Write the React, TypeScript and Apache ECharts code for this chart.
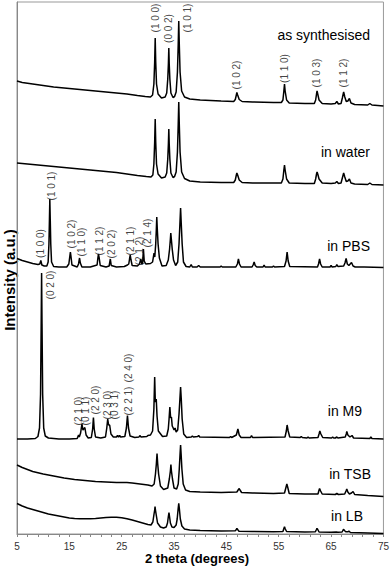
import React, { useEffect, useRef } from "react";
import * as echarts from "echarts";

// Intensity values are in arbitrary units (offset-stacked patterns)
const asSynthesised: [number, number][] = [
  [5, 453], [6, 451.5], [8, 450], [10, 448.5], [12, 447], [14, 446], [16, 445], [18, 444], [20, 443], [22, 442], [24, 441], [26, 440], [28, 438.5], [29.5, 437.5], [30.5, 437],
  [30.9, 439], [31.15, 450], [31.3, 472], [31.4, 496], [31.5, 472], [31.65, 450], [31.95, 440], [32.6, 436],
  [33.3, 437], [33.6, 441], [33.8, 455], [33.92, 470], [34.0, 486], [34.08, 470], [34.2, 455], [34.4, 441], [34.8, 436.5], [35.1, 437.5],
  [35.4, 442], [35.65, 462], [35.8, 490], [35.9, 513], [36.0, 490], [36.15, 462], [36.45, 443], [37, 437], [38, 435], [40, 434], [44, 433], [46.4, 432.5],
  [46.7, 434.5], [46.9, 439], [47.0, 441.5], [47.15, 439], [47.45, 434.5], [48, 432.5], [50, 432], [54, 431.5], [55.5, 431.5],
  [55.8, 434], [55.98, 443], [56.1, 450], [56.22, 443], [56.5, 434], [57, 431], [60, 430.5], [61.8, 430.5],
  [62.05, 434], [62.22, 440], [62.32, 443], [62.45, 440], [62.7, 434], [63.3, 430.5], [65, 430], [65.8, 430.5], [66.1, 432.5], [66.4, 430], [66.9, 430.5],
  [67.15, 436], [67.4, 442], [67.62, 437], [67.9, 432.5], [68.2, 433], [68.5, 435.5], [68.8, 431], [69.5, 429.5], [72, 429], [72.4, 430.5], [72.8, 429], [75, 428],
];

const inWater: [number, number][] = [
  [5, 371], [6, 370.5], [8, 369.5], [10, 368.5], [12, 367.5], [14, 366.5], [16, 365.5], [18, 364.5], [20, 363.5], [22, 362.5], [24, 361.5], [26, 360], [28, 358.5], [29.7, 357.5], [30.6, 357],
  [30.95, 359], [31.15, 370], [31.3, 392], [31.4, 415], [31.5, 392], [31.65, 370], [31.95, 360], [32.6, 356],
  [33.3, 357], [33.6, 361], [33.8, 375], [33.92, 390], [34.0, 405], [34.08, 390], [34.2, 375], [34.4, 361], [34.8, 356.5], [35.1, 357.5],
  [35.4, 362], [35.65, 382], [35.8, 410], [35.9, 432], [36.0, 410], [36.15, 382], [36.45, 362], [37, 355.5], [38, 353], [40, 352], [44, 351.5], [46.4, 351.5],
  [46.7, 354], [46.9, 359], [47.0, 361], [47.15, 359], [47.45, 354], [48, 351.5], [50, 351], [54, 351], [55.5, 351],
  [55.8, 355], [55.98, 364], [56.1, 369], [56.22, 364], [56.5, 355], [57, 351], [60, 350.5], [61.8, 350.5],
  [62.05, 355], [62.22, 360], [62.32, 362], [62.45, 360], [62.7, 355], [63.3, 351], [65, 350.5], [65.8, 351], [66.1, 352.5], [66.4, 350.5], [66.9, 351],
  [67.15, 356], [67.4, 361], [67.62, 357], [67.9, 352.5], [68.2, 353], [68.5, 355], [68.8, 351], [69.5, 350], [72, 349.5], [72.4, 351], [72.8, 349.5], [75, 349],
];

const inPBS: [number, number][] = [
  [5, 275.5], [6, 273.5], [7, 272], [8, 270.5], [9, 269.5], [9.35, 270], [9.55, 273.5], [9.75, 269], [10.2, 268], [10.7, 268],
  [10.95, 272], [11.1, 290], [11.2, 315], [11.27, 335], [11.35, 315], [11.45, 290], [11.6, 272], [12, 267.5], [13, 267], [14.5, 267],
  [14.9, 270], [15.1, 278], [15.2, 282], [15.3, 278], [15.5, 269], [16.5, 267], [16.75, 270], [16.95, 276], [17.1, 271], [17.4, 267],
  [19, 267], [20.3, 269], [20.45, 276], [20.56, 280], [20.7, 276], [20.9, 268.5], [22, 267], [22.6, 268], [22.83, 275], [23.0, 268.5],
  [24, 267], [25.5, 267.5], [26.1, 269], [26.35, 270], [26.5, 275], [26.63, 279], [26.78, 274], [27.0, 268.5], [28, 268], [28.4, 270],
  [28.65, 275], [28.85, 270], [29.0, 271], [29.15, 285], [29.3, 273], [29.6, 270], [30.5, 270.5],
  [30.9, 272], [31.18, 281], [31.32, 277], [31.5, 290], [31.62, 305], [31.7, 317], [31.8, 305], [31.95, 290], [32.2, 276], [32.7, 268],
  [33.5, 268.5], [33.9, 274], [34.15, 285], [34.3, 295], [34.38, 301], [34.48, 295], [34.65, 285], [34.9, 274], [35.3, 268.5],
  [35.7, 272], [35.95, 290], [36.12, 310], [36.25, 326], [36.38, 310], [36.55, 290], [36.8, 272], [37.3, 267.5],
  [38.0, 267], [38.27, 269.5], [38.5, 267], [39.4, 267], [39.7, 268.5], [40, 267], [43.8, 267], [44.0, 268], [44.2, 267],
  [46.8, 267], [47.1, 270], [47.3, 275], [47.5, 270], [47.8, 267], [49.9, 267], [50.1, 269], [50.3, 272], [50.5, 268.5], [50.8, 267],
  [52.0, 267], [52.2, 269], [52.4, 267], [53.8, 267], [54.0, 268], [54.2, 267], [56.1, 267.5], [56.4, 273], [56.6, 282], [56.8, 273], [57.1, 267.5],
  [62.4, 267], [62.6, 270], [62.8, 275], [63.0, 270], [63.3, 267], [64.8, 267], [65.0, 268.5], [65.2, 267], [65.9, 267.5], [66.1, 269.5], [66.3, 267.5],
  [67.4, 268], [67.65, 271], [67.87, 275.5], [68.1, 270], [68.4, 268.5], [68.9, 271.5], [69.2, 268], [69.6, 267], [71.3, 267], [75, 266.5],
];

const inM9: [number, number][] = [
  [5, 95], [7, 95], [8.5, 95.5], [9.0, 97.5], [9.3, 106], [9.5, 140], [9.62, 210], [9.7, 261], [9.78, 210], [9.9, 140], [10.1, 106], [10.4, 98], [11, 96],
  [13, 95], [15, 95], [16.5, 95.5], [16.76, 99], [16.9, 97], [17.15, 101], [17.4, 110], [17.6, 104], [17.96, 106.5], [18.2, 99], [18.6, 96],
  [19.2, 96.5], [19.45, 105], [19.6, 116.5], [19.75, 105], [20.0, 97], [21, 96], [21.9, 97], [22.15, 106], [22.33, 115], [22.5, 109], [22.7, 109], [22.95, 100],
  [23.4, 97], [24.0, 97], [24.2, 98.5], [24.4, 97], [24.6, 98.5], [24.8, 97], [25.6, 97.5], [25.9, 106], [26.1, 118.5], [26.3, 106], [26.6, 98],
  [27.5, 96.5], [28.3, 97], [28.46, 98.5], [28.7, 97], [29.8, 97.5], [30.0, 98.5], [30.5, 99], [30.9, 103], [31.15, 125], [31.3, 157], [31.42, 132],
  [31.6, 135], [31.75, 118], [32.0, 103], [32.8, 97.5], [33.6, 98], [33.9, 105], [34.05, 115], [34.2, 127], [34.35, 116], [34.5, 117], [34.65, 108],
  [34.8, 106.5], [35.0, 104], [35.2, 106], [35.4, 102], [35.7, 104], [35.95, 120], [36.12, 135], [36.25, 147], [36.38, 135], [36.55, 115], [36.85, 100],
  [37.4, 96.5], [38.3, 97], [38.5, 98], [38.7, 97], [39.5, 97.5], [39.7, 98.5], [39.9, 97], [45.6, 96.5], [45.8, 97.5], [46.0, 96.5],
  [46.9, 99], [47.2, 105], [47.45, 99], [47.8, 96.5], [49.6, 96.5], [49.8, 98.5], [50.0, 96.5], [56.2, 97], [56.45, 103], [56.6, 109], [56.8, 103], [57.1, 97],
  [59.1, 96.5], [59.3, 97.5], [59.5, 96.5], [60.4, 96], [60.6, 97], [60.8, 96], [62.5, 96.5], [62.7, 100], [62.85, 103], [63.05, 100], [63.4, 96.5],
  [65.1, 96], [65.3, 97], [65.5, 96], [65.8, 96], [66.1, 97], [66.3, 96], [67.7, 97], [67.9, 100], [68.0, 102.5], [68.2, 99], [68.6, 97], [69.0, 98.5], [69.3, 96],
  [72.4, 95.5], [72.6, 97], [72.8, 95.5], [75, 95],
];

const inTSB: [number, number][] = [
  [5, 69], [6, 66.5], [7, 64.5], [8, 62.5], [10, 60], [12, 58], [14, 56], [16, 54.5], [18, 53.5], [20, 52.5], [22, 52], [24, 51.5], [26, 51.5], [27, 51],
  [28.5, 50], [30, 49], [30.8, 48], [31.2, 50], [31.45, 60], [31.62, 70], [31.75, 80.5], [31.88, 70], [32.05, 60], [32.4, 48], [33, 44.5],
  [33.8, 46], [34.1, 55], [34.3, 63], [34.4, 69.5], [34.5, 63], [34.7, 55], [35.0, 46], [35.5, 45], [35.8, 50], [36.0, 65], [36.15, 80], [36.25, 89],
  [36.35, 80], [36.5, 65], [36.75, 50], [37.2, 44], [38, 42.5], [40, 42], [44, 41.5], [47.0, 42], [47.25, 44], [47.4, 45.5], [47.6, 44], [47.9, 41.5],
  [50, 41], [54, 40.5], [56.1, 41], [56.35, 46], [56.55, 50], [56.75, 46], [57.0, 40.5], [60, 40], [62.5, 40], [62.65, 43], [62.8, 45.5], [63.0, 43], [63.3, 40],
  [65.8, 39.5], [66.1, 40.5], [66.4, 39.5], [67.6, 40], [67.85, 43], [68.0, 45], [68.2, 42], [68.5, 40], [68.9, 41], [69.2, 42.5], [69.5, 39.5], [72, 38.5], [75, 37.5],
];

const inLB: [number, number][] = [
  [5, 30.5], [6, 28], [7, 26], [8, 24.5], [9, 23], [10, 21.5], [11, 20], [12, 19], [13, 18], [14, 17], [15, 16], [16, 15.5], [17, 15.2], [18, 15.2], [19, 15.3],
  [20, 15.5], [21, 16], [22, 16.5], [23, 16.8], [24, 16.8], [25, 16.2], [26, 15.2], [27, 14], [28, 12.5], [29, 11], [30, 9.5], [30.6, 9],
  [30.95, 12], [31.15, 19], [31.3, 24], [31.37, 27.3], [31.45, 24], [31.6, 19], [31.85, 11], [32.4, 7], [33, 6], [33.5, 7], [33.75, 11], [33.9, 17],
  [34.03, 21.3], [34.15, 17], [34.3, 11], [34.6, 7], [35.0, 6.5], [35.4, 9], [35.6, 15], [35.78, 25], [35.9, 30.7], [36.02, 25], [36.2, 15], [36.5, 8],
  [37, 5], [38, 4], [40, 3.5], [44, 3], [46.7, 3.2], [46.9, 4.5], [47.0, 5.7], [47.15, 4.5], [47.4, 2.8], [50, 2.5], [54, 2.2], [55.8, 2.5], [55.95, 5],
  [56.1, 7.3], [56.25, 5], [56.5, 2.5], [60, 2], [62.0, 2.2], [62.2, 4.5], [62.3, 5.7], [62.45, 4.5], [62.7, 2], [65, 1.8], [66, 2], [66.1, 2.4], [66.3, 1.8],
  [67.1, 2], [67.3, 4], [67.4, 4.7], [67.55, 3.5], [67.8, 2.2], [68.2, 2.2], [68.4, 2.8], [68.7, 1.5], [72, 1], [75, 0.5],
];

// Miller index annotations: [2θ, intensity position, text]
const hklSynth: [number, number, string][] = [
  [31.5, 516, "(1 0 0)"], [33.97, 505.5, "(0 0 2)"], [37.63, 516, "(1 0 1)"], [46.93, 459, "(1 0 2)"],
  [56.03, 465.5, "(1 1 0)"], [62.3, 461, "(1 0 3)"], [67.42, 461, "(1 1 2)"],
];
const hklPBS: [number, number, string][] = [
  [9.55, 290.5, "(1 0 0)"], [11.64, 348, "(1 0 1)"], [15.43, 300, "(1 0 2)"], [17.33, 292, "(1 1 0)"],
  [20.75, 293, "(1 1 2)"], [23.02, 290, "(2 0 2)"], [26.63, 293, "(2 1 1)"], [28.34, 283, "(2 1 2)"], [29.85, 301, "(2 1 4)"],
];
const hklM9: [number, number, string][] = [
  [11.45, 249, "(0 2 0)"], [16.76, 123, "(2 1 0)"], [18.09, 123, "(0 1 1)"], [19.99, 134, "(2 2 0)"],
  [22.26, 129, "(2 3 0)"], [23.59, 129, "(0 3 1)"], [26.25, 133, "(2 2 1)"], [26.25, 166, "(2 4 0)"],
];

const xTicks = { min: 5, max: 75, interval: 10 };
const sampleNames = ["as synthesised", "in water", "in PBS", "in M9", "in TSB", "in LB"];
const sampleSeries = [asSynthesised, inWater, inPBS, inM9, inTSB, inLB];

const FONT = "'Liberation Sans', Arial, Helvetica, sans-serif";

export default function App() {
  const ref = useRef<HTMLDivElement>(null);
  useEffect(() => {
    if (!ref.current) return;
    const chart = echarts.init(ref.current, undefined, { renderer: "svg" });
    const namePos: [number, number][] = [
      [370, 35], [370, 152], [370, 246], [362, 411], [371, 474], [363, 516],
    ];
    const lineSeries = sampleSeries.map((d, i) => ({
      type: "line",
      name: sampleNames[i],
      data: d,
      showSymbol: false,
      symbol: "none",
      smooth: false,
      lineStyle: { color: "#000", width: 1.5 },
      silent: true,
      z: 2,
    }));
    const hklSeries = [hklSynth, hklPBS, hklM9].map((d) => ({
      type: "scatter",
      data: d,
      symbolSize: 0,
      silent: true,
      itemStyle: { color: "transparent" },
      label: {
        show: true,
        position: "inside",
        rotate: 90,
        formatter: (p: any) => p.data[2],
        fontSize: 10,
        fontFamily: FONT,
        color: "#111",
      },
      z: 3,
    }));
    chart.setOption({
      animation: false,
      backgroundColor: "#fff",
      grid: {
        left: 17,
        right: 6,
        top: 2,
        bottom: 32,
        show: true,
        borderColor: "#999",
        borderWidth: 1,
        backgroundColor: "transparent",
      },
      xAxis: {
        type: "value",
        min: xTicks.min,
        max: xTicks.max,
        interval: xTicks.interval,
        axisLine: { show: true, lineStyle: { color: "#888", width: 1 } },
        axisTick: { show: true, inside: false, length: 3, lineStyle: { color: "#888" } },
        minorTick: { show: true, splitNumber: 5, length: 3, lineStyle: { color: "#888" } },
        splitLine: { show: false },
        axisLabel: { fontSize: 10, color: "#333", fontFamily: FONT, margin: 7 },
      },
      yAxis: {
        type: "value",
        min: 0,
        max: 532,
        axisLine: { show: true, lineStyle: { color: "#888", width: 1 } },
        axisTick: { show: false },
        axisLabel: { show: false },
        splitLine: { show: false },
      },
      series: [...lineSeries, ...hklSeries],
      graphic: [
        ...sampleNames.map((n, i) => ({
          type: "text",
          x: namePos[i][0],
          y: namePos[i][1],
          silent: true,
          style: {
            text: n,
            align: "right",
            textAlign: "right",
            verticalAlign: "middle",
            textVerticalAlign: "middle",
            fontSize: 14,
            fontFamily: FONT,
            fill: "#000",
          },
        })),
        {
          type: "text",
          x: 197,
          y: 558,
          silent: true,
          style: {
            text: "2 theta (degrees)",
            align: "center",
            textAlign: "center",
            verticalAlign: "middle",
            textVerticalAlign: "middle",
            fontSize: 13,
            fontWeight: "bold",
            fontFamily: FONT,
            fill: "#000",
          },
        },
        {
          type: "text",
          x: 9,
          y: 280,
          rotation: Math.PI / 2,
          silent: true,
          style: {
            text: "Intensity (a.u.)",
            align: "center",
            textAlign: "center",
            verticalAlign: "middle",
            textVerticalAlign: "middle",
            fontSize: 15,
            fontWeight: "bold",
            fontFamily: FONT,
            fill: "#000",
          },
        },
      ],
    });
    return () => chart.dispose();
  }, []);
  return <div ref={ref} style={{ width: 392, height: 566, position: "absolute", left: 0, top: 0 }} />;
}
